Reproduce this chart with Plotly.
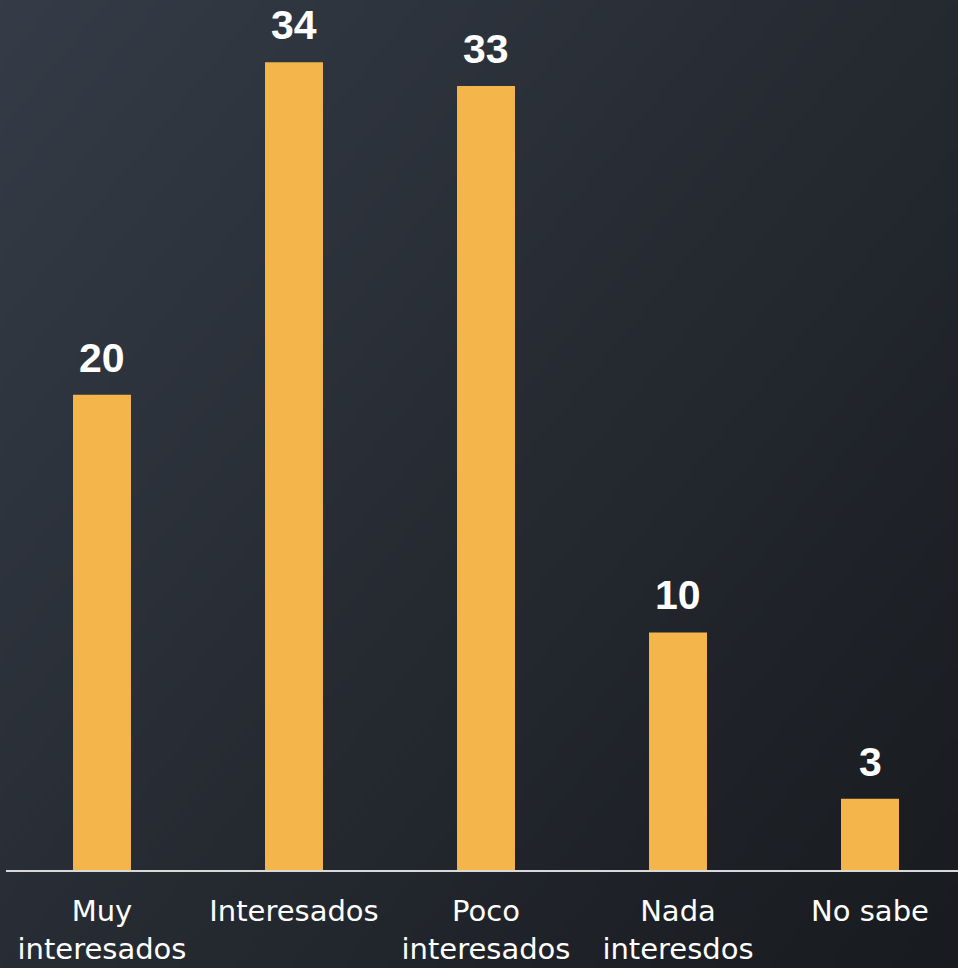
import base64, struct, zlib
import numpy as np
import plotly.graph_objects as go

categories = ["Muy<br>interesados", "Interesados", "Poco<br>interesados", "Nada<br>interesdos", "No sabe"]
values = [20, 34, 33, 10, 3]

W, H = 958, 968
ML, MT, MB = 6, 0, 98

# diagonal gradient background as PNG
def gradient_png(w=120, h=120):
    c0 = np.array([0x35, 0x3c, 0x47], float)
    c1 = np.array([0x18, 0x1b, 0x1f], float)
    yy, xx = np.mgrid[0:h, 0:w]
    t = (xx / (w - 1) * 0.55 + yy / (h - 1) * 0.45)
    img = (c0[None, None, :] * (1 - t[..., None]) + c1[None, None, :] * t[..., None]).astype(np.uint8)
    raw = b"".join(b"\x00" + img[r].tobytes() for r in range(h))
    def chunk(tag, data):
        return struct.pack(">I", len(data)) + tag + data + struct.pack(">I", zlib.crc32(tag + data) & 0xffffffff)
    png = b"\x89PNG\r\n\x1a\n" + chunk(b"IHDR", struct.pack(">IIBBBBB", w, h, 8, 2, 0, 0, 0)) \
        + chunk(b"IDAT", zlib.compress(raw, 9)) + chunk(b"IEND", b"")
    return "data:image/png;base64," + base64.b64encode(png).decode()

pw = W - ML
ph = H - MT - MB

fig = go.Figure()
fig.add_trace(go.Bar(
    x=list(range(len(categories))), y=values,
    marker=dict(color="#F4B54B", line=dict(width=0)),
    width=0.302,
    hoverinfo="skip",
))

for i, v in enumerate(values):
    fig.add_annotation(x=i, y=v, text="<b>%d</b>" % v, showarrow=False,
                       yanchor="bottom", yshift=12,
                       font=dict(family="Liberation Sans", size=41, color="white"))

fig.update_layout(
    width=W, height=H,
    margin=dict(l=ML, r=0, t=MT, b=MB, pad=0),
    paper_bgcolor="#262b32",
    plot_bgcolor="rgba(0,0,0,0)",
    showlegend=False,
    images=[dict(source=gradient_png(), xref="paper", yref="paper",
                 x=-ML / pw, y=1 + MT / ph, sizex=W / pw, sizey=H / ph,
                 xanchor="left", yanchor="top", sizing="stretch", layer="below")],
    xaxis=dict(
        tickmode="array", tickvals=list(range(len(categories))), ticktext=categories,
        range=[-0.5, -0.5 + pw / 192.0],
        showgrid=False, zeroline=False,
        showline=True, linecolor="#d9d9d9", linewidth=2,
        ticks="", ticklabelstandoff=14,
        tickfont=dict(family="DejaVu Sans", size=29, color="white"),
    ),
    yaxis=dict(range=[0, ph / 23.76], visible=False, showgrid=False, zeroline=False),
)

fig.write_html("out.html", config={"displayModeBar": False},
               post_script="document.body.style.margin='0px';document.body.style.overflow='hidden';")
